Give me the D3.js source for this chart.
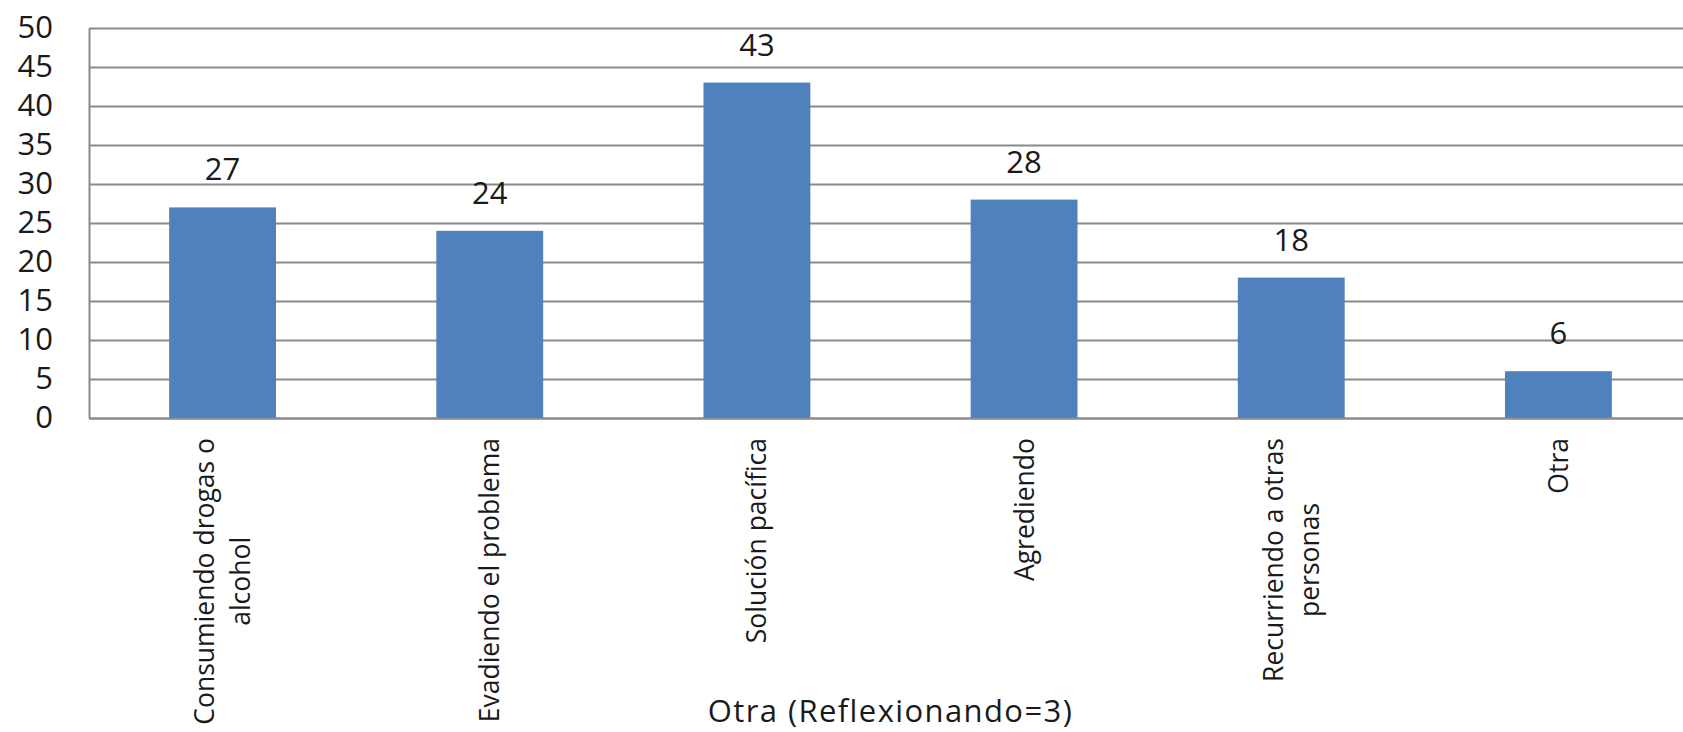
<!DOCTYPE html>
<html>
<head>
<meta charset="utf-8">
<script src="https://cdn.jsdelivr.net/npm/d3@7"></script>
<style>
  body { margin: 0; background: #fff; }
  text { font-family: "Open Sans", sans-serif; fill: #1a1a1a; }
</style>
</head>
<body>
<div id="chart"></div>
<script>
// Data
var categories = [
  ["Consumiendo drogas o", "alcohol"],
  ["Evadiendo el problema"],
  ["Solución pacífica"],
  ["Agrediendo"],
  ["Recurriendo a otras", "personas"],
  ["Otra"]
];
var values = [27, 24, 43, 28, 18, 6];
var yTicks = [0, 5, 10, 15, 20, 25, 30, 35, 40, 45, 50];
var xTitle = "Otra (Reflexionando=3)";

var width = 1683;
var height = 732;
var plotLeft = 89;
var plotRight = 1692;
var plotTop = 28;
var plotBottom = 418;
var gridColor = "#8a8a8a";
var barColor = "#4f81bd";

var svg = d3.select("#chart")
  .append("svg")
  .attr("width", width)
  .attr("height", height);

var xScale = d3.scaleBand()
  .domain(d3.range(values.length))
  .range([plotLeft, plotRight]);

var yScale = d3.scaleLinear()
  .domain([0, 50])
  .range([plotBottom, plotTop]);

// Gridlines
var grid = svg.append("g")
  .attr("transform", "translate(" + plotLeft + ",0)")
  .call(d3.axisLeft(yScale).tickValues(yTicks).tickSize(-(plotRight - plotLeft)).tickFormat(""));
grid.select(".domain").remove();
grid.selectAll("line").attr("stroke", gridColor).attr("stroke-width", 2);

// Y axis labels
var yAxis = svg.append("g")
  .attr("transform", "translate(" + plotLeft + ",0)")
  .call(d3.axisLeft(yScale).tickValues(yTicks).tickSize(0).tickPadding(36));
yAxis.select(".domain").attr("stroke", gridColor).attr("stroke-width", 2);
yAxis.selectAll("text")
  .style("font-size", "31px")
  .attr("fill", "#1a1a1a");

// Bars
var barW = xScale.bandwidth() * 0.4;
svg.selectAll(".bar")
  .data(values)
  .enter()
  .append("rect")
  .attr("class", "bar")
  .attr("x", function(d, i) { return xScale(i) + (xScale.bandwidth() - barW) / 2; })
  .attr("y", function(d) { return yScale(d); })
  .attr("width", barW)
  .attr("height", function(d) { return yScale(0) - yScale(d); })
  .attr("fill", barColor);

// X axis line
var xAxis = svg.append("g")
  .attr("transform", "translate(0," + plotBottom + ")")
  .call(d3.axisBottom(xScale).tickSize(0).tickFormat(""));
xAxis.select(".domain").attr("stroke", gridColor).attr("stroke-width", 2);

// Value labels
svg.selectAll(".valueLabel")
  .data(values)
  .enter()
  .append("text")
  .attr("class", "valueLabel")
  .attr("x", function(d, i) { return xScale(i) + xScale.bandwidth() / 2; })
  .attr("y", function(d) { return yScale(d) - 27; })
  .attr("text-anchor", "middle")
  .style("font-size", "31px")
  .text(function(d) { return d; });

// Category labels, rotated
var lineGap = 36;
categories.forEach(function(lines, i) {
  var cx = xScale(i) + xScale.bandwidth() / 2;
  var g = svg.append("g")
    .attr("transform", "translate(" + cx + "," + (plotBottom + 20) + ")rotate(-90)");
  var texts = lines.map(function(line, j) {
    return g.append("text")
      .attr("y", 9.5 + (j - (lines.length - 1) / 2) * lineGap)
      .attr("text-anchor", "middle")
      .style("font-size", "26.5px")
      .text(line);
  });
  var maxW = d3.max(texts, function(t) { return t.node().getComputedTextLength(); });
  texts.forEach(function(t) { t.attr("x", -maxW / 2); });
});

// Axis title
svg.append("text")
  .attr("x", (plotLeft + plotRight) / 2)
  .attr("y", 722)
  .attr("text-anchor", "middle")
  .style("font-size", "31px")
  .style("letter-spacing", "1.4px")
  .text(xTitle);
</script>
</body>
</html>
